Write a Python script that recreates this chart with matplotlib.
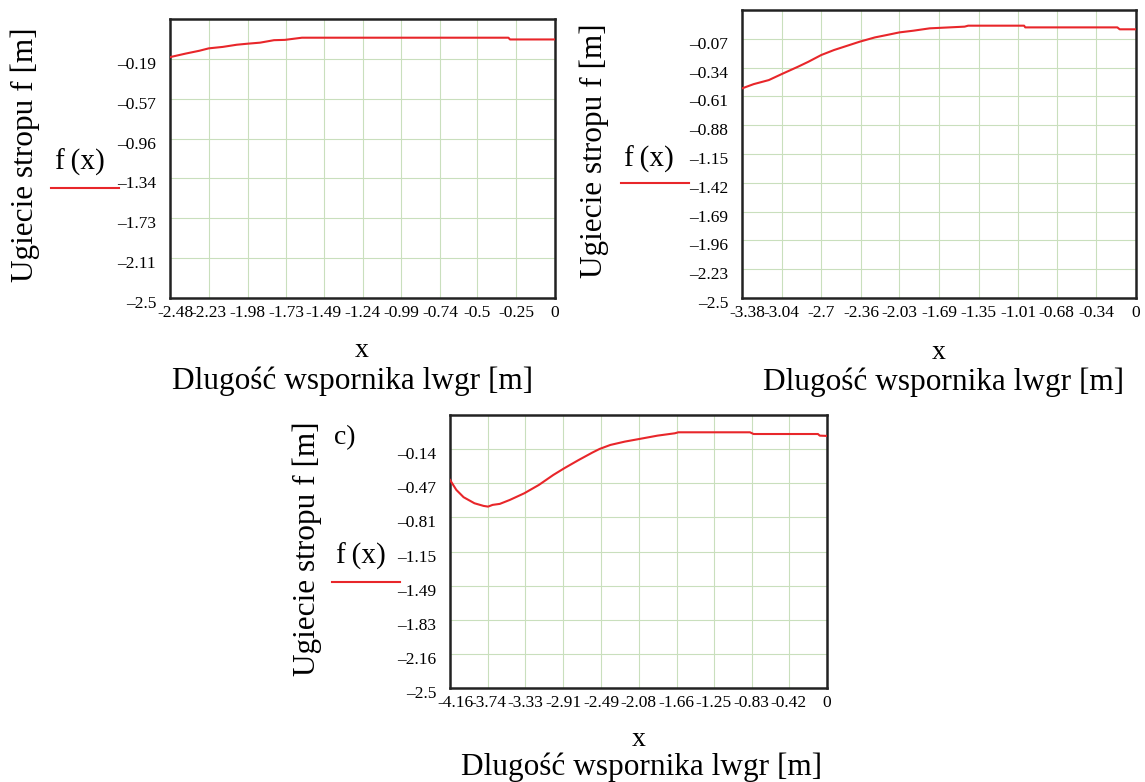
import matplotlib.pyplot as plt
import matplotlib.transforms as mtransforms

plt.rcParams['font.family'] = ['Liberation Serif', 'DejaVu Serif']

# panel a) cantilever length 2.48 m
x_a = [-2.48, -2.38, -2.29, -2.23, -2.14, -2.05, -1.98, -1.9, -1.81, -1.74, -1.63,
       -1.0, -0.3, -0.29, 0.0]
f_a = [-0.169, -0.135, -0.107, -0.084, -0.07, -0.049, -0.039, -0.029, -0.005, -0.002, 0.019,
       0.019, 0.019, 0.002, 0.002]
xt_a = [-2.48, -2.23, -1.98, -1.73, -1.49, -1.24, -0.99, -0.74, -0.5, -0.25, 0]
yt_a = [-2.5, -2.11, -1.73, -1.34, -0.96, -0.57, -0.19]

# panel b) cantilever length 3.38 m
x_b = [-3.38, -3.28, -3.15, -3.04, -2.9, -2.81, -2.7, -2.59, -2.46, -2.37, -2.24, -2.14,
       -2.03, -1.91, -1.77, -1.47, -1.44, -0.96, -0.95, -0.16, -0.14, 0.0]
f_b = [-0.535, -0.495, -0.457, -0.401, -0.332, -0.285, -0.222, -0.175, -0.129, -0.097,
       -0.057, -0.035, -0.01, 0.006, 0.028, 0.044, 0.053, 0.053, 0.037, 0.037, 0.019, 0.019]
xt_b = [-3.38, -3.04, -2.7, -2.36, -2.03, -1.69, -1.35, -1.01, -0.68, -0.34, 0]
yt_b = [-2.5, -2.23, -1.96, -1.69, -1.42, -1.15, -0.88, -0.61, -0.34, -0.07]

# panel c) cantilever length 4.16 m
x_c = [-4.16, -4.09, -4.01, -3.89, -3.79, -3.74, -3.69, -3.61, -3.5, -3.34, -3.18, -3.02,
       -2.9, -2.74, -2.59, -2.51, -2.39, -2.23, -2.07, -1.87, -1.68, -1.64, -0.85, -0.81,
       -0.1, -0.08, 0.0]
f_c = [-0.442, -0.541, -0.613, -0.673, -0.699, -0.706, -0.689, -0.679, -0.64, -0.574,
       -0.492, -0.393, -0.327, -0.245, -0.172, -0.136, -0.096, -0.063, -0.037, -0.004,
       0.019, 0.029, 0.029, 0.012, 0.012, -0.004, -0.007]
xt_c = [-4.16, -3.74, -3.33, -2.91, -2.49, -2.08, -1.66, -1.25, -0.83, -0.42, 0]
yt_c = [-2.5, -2.16, -1.83, -1.49, -1.15, -0.81, -0.47, -0.14]

y_top = 0.2

W, H = 1145, 782
fig = plt.figure(figsize=(W / 100, H / 100), dpi=100)


def fmt(v, dash='-'):
    if v == 0:
        return '0'
    return ('%g' % v).replace('-', dash)


def panel(box, xs, fs, xt, yt, ylab, ftxt, fline, xlab):
    # box = (left, top, right, bottom) in pixels
    l, t, r, b = box
    ax = fig.add_axes([l / W, 1 - b / H, (r - l) / W, (b - t) / H])
    ax.plot(xs, fs, color='#e8262a', lw=1.5, zorder=3)
    ax.set_xlim(xt[0], xt[-1])
    ax.set_ylim(yt[0], y_top)
    ax.set_xticks(xt)
    ax.set_xticklabels([fmt(v) for v in xt])
    ax.set_yticks(yt)
    ax.set_yticklabels([fmt(v, '\u2013') for v in yt])
    ax.tick_params(axis='x', length=0, labelsize=12.5, pad=5)
    ax.tick_params(axis='y', length=0, labelsize=12.5, pad=10)
    ax.grid(True, color='#c9dfbd', lw=0.8)
    for s in ax.spines.values():
        s.set_linewidth(1.8)
        s.set_color('#222222')
    # Mathcad puts the y numbers a little below the grid lines
    off = mtransforms.ScaledTranslation(0, -0.04, fig.dpi_scale_trans)
    for lab in ax.get_yticklabels():
        lab.set_transform(lab.get_transform() + off)
    first = ax.get_xticklabels()[0]
    first.set_transform(first.get_transform() +
                        mtransforms.ScaledTranslation(0.05, 0, fig.dpi_scale_trans))

    fig.text(ylab[0] / W, 1 - ylab[1] / H, 'Ugiecie stropu f [m]', rotation=90,
             fontsize=22.5, ha='center', va='center')
    fig.text(ftxt[0] / W, 1 - ftxt[1] / H, 'f\u2009(x)', fontsize=21, ha='center', va='center')
    fig.add_artist(plt.Line2D([(fline[0] - 34) / W, (fline[0] + 34) / W],
                              [1 - fline[1] / H, 1 - fline[1] / H],
                              color='#e8262a', lw=1.5, transform=fig.transFigure))
    fig.text(xlab[0] / W, 1 - xlab[1] / H, 'x', fontsize=20, ha='center', va='center')
    fig.text(xlab[2] / W, 1 - xlab[3] / H, 'Dlugość wspornika lwgr [m]', fontsize=22.5,
             ha='center', va='center')
    return ax


ax1 = panel((170, 19, 555, 298), x_a, f_a, xt_a, yt_a,
            (25, 155), (80, 162), (85, 188), (362, 350, 353, 381))
ax2 = panel((742, 10, 1136, 298), x_b, f_b, xt_b, yt_b,
            (594, 151), (649, 159), (655, 183), (939, 353, 944, 382))
ax3 = panel((450, 415, 827, 688), x_c, f_c, xt_c, yt_c,
            (307, 549), (361, 556), (366, 582), (639, 739, 642, 767))

fig.text(345 / W, 1 - 438 / H, 'c)', fontsize=20, ha='center', va='center')

plt.savefig('out.png', dpi=100)
